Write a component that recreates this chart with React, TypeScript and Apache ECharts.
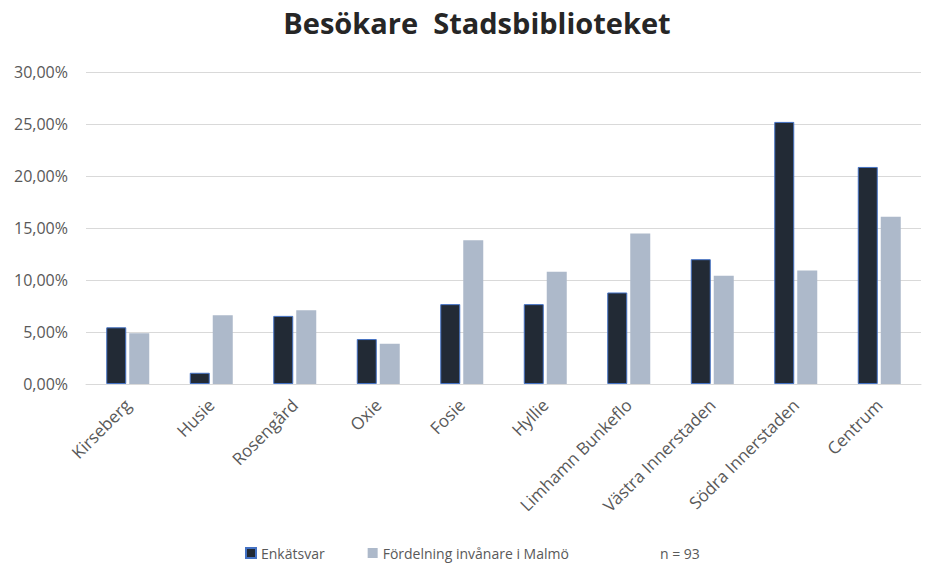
import React, { useEffect, useRef } from "react";
import * as echarts from "echarts";

const categories = [
  "Kirseberg",
  "Husie",
  "Rosengård",
  "Oxie",
  "Fosie",
  "Hyllie",
  "Limhamn Bunkeflo",
  "Västra Innerstaden",
  "Södra Innerstaden",
  "Centrum",
];
const enkatsvar = [5.45, 1.08, 6.55, 4.32, 7.68, 7.68, 8.8, 12.0, 25.2, 20.87];
const fordelning = [4.87, 6.6, 7.08, 3.87, 13.83, 10.79, 14.47, 10.4, 10.92, 16.07];
const yTicks = { min: 0, max: 30, interval: 5 };
const sampleNote = "n = 93";

const FONT = "'Open Sans', 'Noto Sans', sans-serif";

export default function App() {
  const ref = useRef<HTMLDivElement>(null);
  useEffect(() => {
    document.body.style.margin = "0";
    if (!ref.current) return;
    const chart = echarts.init(ref.current, undefined, { renderer: "svg" });
    chart.setOption({
      animation: false,
      backgroundColor: "#ffffff",
      title: {
        text: "Besökare  Stadsbiblioteket",
        left: 472,
        textAlign: "center",
        top: 3,
        textStyle: {
          fontFamily: FONT,
          fontSize: 29,
          fontWeight: "bold",
          color: "#262626",
        },
      },
      grid: { left: 86, right: 7, top: 72, bottom: 183 },
      legend: {
        top: 546,
        left: 245,
        padding: 0,
        itemWidth: 10,
        itemHeight: 10,
        itemGap: 43,
        textStyle: { fontFamily: FONT, fontSize: 14, color: "#595959" },
        data: [
          { name: "Enkätsvar", icon: "rect" },
          { name: "Fördelning invånare i Malmö", icon: "rect" },
        ],
      },
      graphic: [
        {
          type: "text",
          left: 660,
          top: 546,
          style: {
            text: sampleNote,
            fontFamily: FONT,
            fontSize: 14,
            fill: "#595959",
          },
        },
      ],
      xAxis: {
        type: "category",
        data: categories,
        axisLine: { lineStyle: { color: "#D9D9D9" } },
        axisTick: { show: false },
        axisLabel: {
          rotate: 45,
          interval: 0,
          margin: 18,
          fontFamily: FONT,
          fontSize: 17,
          color: "#595959",
        },
      },
      yAxis: {
        type: "value",
        min: yTicks.min,
        max: yTicks.max,
        interval: yTicks.interval,
        axisLine: { show: false },
        axisTick: { show: false },
        splitLine: { lineStyle: { color: "#D9D9D9", width: 1 } },
        axisLabel: {
          margin: 18,
          fontFamily: FONT,
          fontSize: 16,
          color: "#595959",
          formatter: (v: number) => v.toFixed(2).replace(".", ",") + "%",
        },
      },
      series: [
        {
          name: "Enkätsvar",
          type: "bar",
          data: enkatsvar,
          barWidth: 20,
          barGap: "15%",
          itemStyle: { color: "#222A35", borderColor: "#4472C4", borderWidth: 1 },
        },
        {
          name: "Fördelning invånare i Malmö",
          type: "bar",
          data: fordelning,
          barWidth: 20,
          itemStyle: { color: "#ADB9CA" },
        },
      ],
    });
    return () => chart.dispose();
  }, []);
  return <div ref={ref} style={{ width: 928, height: 567 }} />;
}
